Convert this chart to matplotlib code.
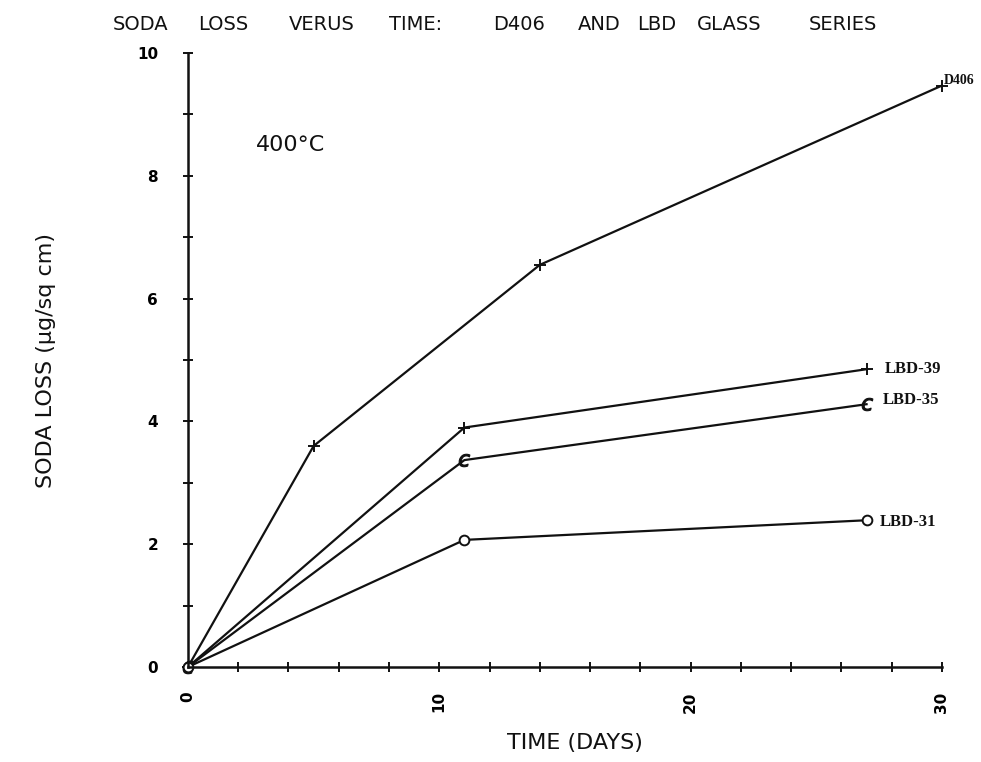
import matplotlib
matplotlib.use("Agg")
import matplotlib.pyplot as plt
from matplotlib.ticker import MultipleLocator

# Soda loss (ug/sq cm) versus exposure time at 400 C
d406_days = [0, 5, 14, 30]
d406_loss = [0.0, 3.6, 6.55, 9.47]

lbd39_days = [0, 11, 27]
lbd39_loss = [0.0, 3.9, 4.85]

lbd35_days = [0, 11, 27]
lbd35_loss = [0.0, 3.37, 4.28]

lbd31_days = [0, 11, 27]
lbd31_loss = [0.0, 2.07, 2.39]

x_major = [0, 10, 20, 30]
y_major = [0, 2, 4, 6, 8, 10]

title_words = ["SODA", "LOSS", "VERUS", "TIME:", "D406", "AND", "LBD", "GLASS", "SERIES"]
xlabel = "TIME (DAYS)"
ylabel = "SODA LOSS (\u03bcg/sq cm)"
temp_note = "400\u00b0C"

ink = "#111111"
plot_font = "DejaVu Sans"
tag_font = "Liberation Serif"

W, H = 981, 762
fig = plt.figure(figsize=(W / 100, H / 100), dpi=100)
ax = fig.add_axes([0.1916, 0.1247, 0.9602 - 0.1916, 0.9304 - 0.1247])

lw = 1.6
ax.plot(d406_days, d406_loss, color=ink, lw=lw, marker="+", ms=9, mew=1.4, clip_on=False)
ax.plot(lbd39_days, lbd39_loss, color=ink, lw=lw, marker="+", ms=9, mew=1.4, clip_on=False)
ax.plot(lbd35_days, lbd35_loss, color=ink, lw=lw, marker="$c$", ms=9, mew=0.8, clip_on=False)
ax.plot(lbd31_days, lbd31_loss, color=ink, lw=lw, marker="o", ms=7, mfc="white",
        mew=1.4, clip_on=False)

ax.set_xlim(0, 30)
ax.set_ylim(0, 10)

for s in ("top", "right"):
    ax.spines[s].set_visible(False)
for s in ("left", "bottom"):
    ax.spines[s].set_color(ink)
    ax.spines[s].set_linewidth(1.8)

ax.set_xticks(x_major)
ax.set_yticks(y_major)
ax.xaxis.set_minor_locator(MultipleLocator(2))
ax.yaxis.set_minor_locator(MultipleLocator(1))
ax.tick_params(axis="both", which="both", direction="inout", color=ink, width=1.4,
               length=7, labelsize=11)
ax.tick_params(axis="x", which="major", pad=14)
ax.tick_params(axis="y", which="major", pad=18)
ax.set_xticklabels([str(v) for v in x_major], rotation=90, fontweight="bold",
                   family=plot_font)
ax.set_yticklabels([str(v) for v in y_major], fontweight="bold", family=plot_font)

ax.set_xlabel(xlabel, fontsize=16, family=plot_font, color=ink, labelpad=15, x=0.513)
ax.set_ylabel(ylabel, fontsize=16, family=plot_font, color=ink, labelpad=58)

# Title laid out word by word, wide plotter-style spacing
title_centers = [141, 223, 322, 416, 519, 599, 657, 729, 843]
for word, cx in zip(title_words, title_centers):
    fig.text(cx / W, 1 - 24 / H, word, ha="center", va="center", fontsize=14,
             family=plot_font, color=ink)

ax.text(4.1, 8.5, temp_note, fontsize=16, family=plot_font, color=ink,
        ha="center", va="center")

tag_kw = dict(family=tag_font, fontweight="bold", color=ink,
              va="center", ha="left", clip_on=False)
ax.text(d406_days[-1] + 0.08, d406_loss[-1] + 0.08, "D406", fontsize=10, **tag_kw)
ax.text(lbd39_days[-1] + 0.72, lbd39_loss[-1], "LBD-39", fontsize=12, **tag_kw)
ax.text(lbd35_days[-1] + 0.64, lbd35_loss[-1] + 0.07, "LBD-35", fontsize=12, **tag_kw)
ax.text(lbd31_days[-1] + 0.52, lbd31_loss[-1] - 0.03, "LBD-31", fontsize=12, **tag_kw)

fig.savefig("out.png", dpi=100)
